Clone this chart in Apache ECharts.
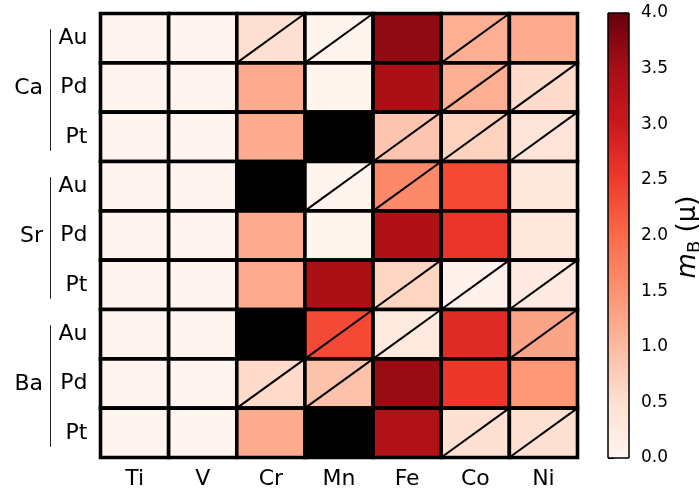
<!DOCTYPE html>
<html><head><meta charset="utf-8">
<script src="https://cdn.jsdelivr.net/npm/echarts@6/dist/echarts.min.js"></script>
<style>html,body{margin:0;padding:0;background:#fff}#c{width:699px;height:494px}</style>
</head><body><div id="c"></div>
<script>
// ---- data ----
const metals = ['Ti', 'V', 'Cr', 'Mn', 'Fe', 'Co', 'Ni'];
const groups = ['Ca', 'Sr', 'Ba'];
const nobles = ['Au', 'Pd', 'Pt'];
// magnetic moment per row (Ca-Au ... Ba-Pt), per metal; null = black cell
const moments = [
  [0.02, 0.02, 0.50, 0.04, 3.68, 1.15, 1.20],
  [0.02, 0.02, 1.20, 0.03, 3.43, 1.15, 0.57],
  [0.02, 0.02, 1.20, null, 0.86, 0.68, 0.40],
  [0.02, 0.02, null, 0.04, 1.60, 2.35, 0.33],
  [0.02, 0.02, 1.20, 0.03, 3.37, 2.60, 0.33],
  [0.02, 0.02, 1.20, 3.43, 0.65, 0.07, 0.26],
  [0.02, 0.02, null, 2.35, 0.28, 2.73, 1.28],
  [0.02, 0.02, 0.57, 0.90, 3.60, 2.55, 1.44],
  [0.02, 0.02, 1.20, null, 3.34, 0.48, 0.50]
];
// 1 = cell drawn with a diagonal
const diagonal = [
  [0, 0, 1, 1, 0, 1, 0],
  [0, 0, 0, 0, 0, 1, 1],
  [0, 0, 0, 0, 1, 1, 1],
  [0, 0, 0, 1, 1, 0, 0],
  [0, 0, 0, 0, 0, 0, 0],
  [0, 0, 0, 0, 1, 1, 1],
  [0, 0, 0, 1, 1, 0, 1],
  [0, 0, 1, 1, 0, 0, 0],
  [0, 0, 0, 0, 0, 1, 1]
];
const cbMin = 0, cbMax = 4, cbStep = 0.5;
const reds = ['#fff5f0', '#fee0d2', '#fcbba1', '#fc9272', '#fb6a4a', '#ef3b2c', '#cb181d', '#a50f15', '#67000d'];

// ---- build ----
const rowKeys = [];
groups.forEach(g => nobles.forEach(n => rowKeys.push(g + '-' + n)));
const cells = [];
moments.forEach((row, r) => row.forEach((v, c) => {
  cells.push([c, r, v == null ? -1 : v, diagonal[r][c]]);
}));

const FONT = 'DejaVu Sans';
const chart = echarts.init(document.getElementById('c'));

function renderCell(params, api) {
  const c = api.value(0), r = api.value(1), v = api.value(2), d = api.value(3);
  const p = api.coord([c, r]);
  const s = api.size([1, 1]);
  const x0 = p[0] - s[0] / 2, y0 = p[1] - s[1] / 2;
  const fill = v < 0 ? '#000' : api.visual('color');
  const children = [{
    type: 'rect', shape: { x: x0, y: y0, width: s[0], height: s[1] },
    style: { fill: fill, stroke: '#000', lineWidth: 3.6 }
  }];
  if (d) children.push({
    type: 'line', shape: { x1: x0, y1: y0 + s[1], x2: x0 + s[0], y2: y0 },
    style: { stroke: '#000', lineWidth: 2 }
  });
  return { type: 'group', children: children };
}

function renderBar(params, api) {
  const a = api.coord([0, cbMax]);
  const b = api.coord([1, cbMin]);
  const stops = reds.map((col, i) => ({ offset: i / (reds.length - 1), color: col }));
  return {
    type: 'rect', shape: { x: a[0], y: a[1], width: b[0] - a[0], height: b[1] - a[1] },
    style: { fill: new echarts.graphic.LinearGradient(0, 1, 0, 0, stops), stroke: '#000', lineWidth: 1 }
  };
}

chart.setOption({
  animation: false,
  backgroundColor: '#fff',
  grid: [
    { left: 100.5, top: 13.5, width: 477, height: 444 },
    { left: 608, top: 13, width: 21, height: 445 }
  ],
  xAxis: [
    {
      type: 'category', data: metals, gridIndex: 0,
      axisLine: { show: false }, axisTick: { show: false },
      axisLabel: { fontFamily: FONT, fontSize: 22, color: '#000', margin: 11 }
    },
    { type: 'value', gridIndex: 1, min: 0, max: 1, show: false }
  ],
  yAxis: [
    {
      type: 'category', data: rowKeys, inverse: true, gridIndex: 0,
      axisLine: { show: false }, axisTick: { show: false },
      axisLabel: { fontFamily: FONT, fontSize: 22, color: '#000', margin: 13, formatter: v => v.split('-')[1] }
    },
    {
      type: 'value', gridIndex: 1, position: 'right', min: cbMin, max: cbMax, interval: cbStep,
      axisLine: { show: false }, splitLine: { show: false },
      axisTick: { show: true, length: 6, lineStyle: { color: '#000', width: 1 } },
      axisLabel: { fontFamily: FONT, fontSize: 17, color: '#000', margin: 12, formatter: v => v.toFixed(1) }
    }
  ],
  visualMap: {
    show: false, type: 'continuous', min: cbMin, max: cbMax, dimension: 2, seriesIndex: 0,
    inRange: { color: reds }, outOfRange: { color: '#000' }
  },
  series: [
    { type: 'custom', xAxisIndex: 0, yAxisIndex: 0, data: cells, encode: { x: 0, y: 1 }, renderItem: renderCell, z: 2 },
    { type: 'custom', xAxisIndex: 1, yAxisIndex: 1, data: [[0, 0]], encode: { x: 0, y: 1 }, renderItem: renderBar, silent: true }
  ]
});

// group labels and brackets
const gfx = [];
groups.forEach((g, gi) => {
  const top = chart.convertToPixel({ gridIndex: 0 }, [0, gi * 3])[1];
  const mid = chart.convertToPixel({ gridIndex: 0 }, [0, gi * 3 + 1])[1];
  const bot = chart.convertToPixel({ gridIndex: 0 }, [0, gi * 3 + 2])[1];
  gfx.push({ type: 'line', shape: { x1: 50.5, y1: top - 9, x2: 50.5, y2: bot + 14 }, style: { stroke: '#222', lineWidth: 1 } });
  gfx.push({ type: 'text', x: 43, y: mid + 1, style: { text: g, fill: '#000', font: '22px "' + FONT + '"', align: 'right', verticalAlign: 'middle' } });
});

// colorbar label  m_B (μ)
const ctx = document.createElement('canvas').getContext('2d');
function w(t, f) { ctx.font = f; return ctx.measureText(t).width; }
const fM = 'italic 26px "' + FONT + '"', fB = '18px "' + FONT + '"', fN = '26px "' + FONT + '"';
const wm = w('m', fM), wb = w('B', fB), wsp = w(' ', fN), wn = w('(μ)', fN);
const tot = wm + wb + wsp + wn;
let x = -tot / 2;
const kids = [];
kids.push({ type: 'text', x: x, y: 0, style: { text: 'm', font: fM, fill: '#000', align: 'left', verticalAlign: 'middle' } });
x += wm;
kids.push({ type: 'text', x: x, y: 7, style: { text: 'B', font: fB, fill: '#000', align: 'left', verticalAlign: 'middle' } });
x += wb + wsp;
kids.push({ type: 'text', x: x, y: 0, style: { text: '(μ)', font: fN, fill: '#000', align: 'left', verticalAlign: 'middle' } });
gfx.push({ type: 'group', x: 688, y: 237, rotation: Math.PI / 2, children: kids });

chart.setOption({ graphic: gfx });
</script>
</body></html>
